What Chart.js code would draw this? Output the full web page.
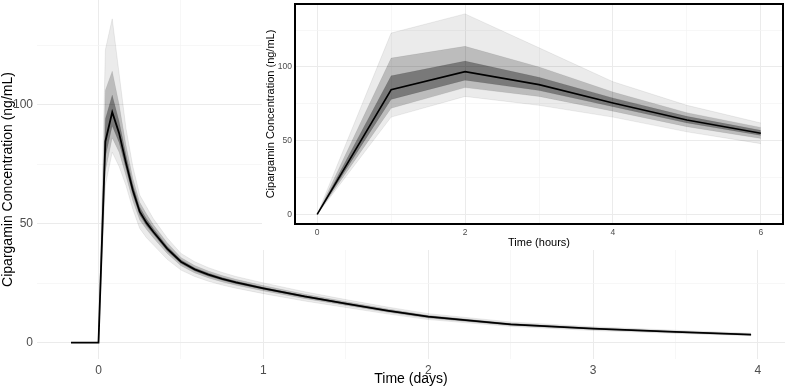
<!DOCTYPE html>
<html>
<head>
<meta charset="utf-8">
<script src="https://cdn.jsdelivr.net/npm/chart.js@4.4.1/dist/chart.umd.min.js"></script>
<style>
  body { margin: 0; background: #fff; }
  #wrap { position: relative; width: 788px; height: 388px; }
  #inset { position: absolute; left: 262px; top: 0; background: #fff; }
</style>
</head>
<body>
<div id="wrap">
  <canvas id="main" width="788" height="388"></canvas>
  <canvas id="inset" width="526" height="250"></canvas>
</div>
<script>
// time after dose, in hours
const hours  = [-4, 0, 1, 2, 3, 4, 5, 6, 7, 8, 10, 12, 14, 16, 18, 20, 24, 30, 36, 42, 48, 60, 72, 84, 95];
// median profile (black line), ng/mL
const median = [0, 0, 84.5, 96.8, 88, 75.5, 64, 55, 50.3, 46.5, 39.5, 34, 30.8, 28.6, 26.8, 25.3, 22.8, 19.4, 16.4, 13.5, 10.9, 7.7, 5.9, 4.5, 3.4];
// spread of the simulated profiles (grey lines)
const pMin = [0, 0, 66, 80, 74, 66, 56, 48, 44, 41, 35, 30.5, 27.8, 25.8, 24.2, 22.9, 20.6, 17.5, 14.8, 12.1, 9.7, 6.8, 5.1, 3.9, 2.9];
const p10  = [0, 0, 72, 86, 80, 70, 59.5, 51.5, 47.5, 44, 37.5, 32.3, 29.3, 27.2, 25.5, 24.1, 21.7, 18.5, 15.6, 12.8, 10.3, 7.2, 5.5, 4.2, 3.15];
const p25  = [0, 0, 78, 91, 84, 73, 62, 53.5, 49, 45.5, 38.5, 33.2, 30.1, 27.9, 26.2, 24.7, 22.3, 19, 16, 13.2, 10.6, 7.45, 5.7, 4.35, 3.28];
const p75  = [0, 0, 94, 104, 93, 79, 66.5, 57, 52, 48, 40.5, 34.8, 31.5, 29.3, 27.4, 25.9, 23.3, 19.8, 16.8, 13.8, 11.2, 7.95, 6.1, 4.65, 3.52];
const p90  = [0, 0, 106, 114, 100, 83, 69, 59, 54, 49.5, 42, 35.8, 32.4, 30.1, 28.2, 26.6, 24, 20.4, 17.3, 14.2, 11.5, 8.2, 6.3, 4.8, 3.65];
const pMax = [0, 0, 123, 136, 113, 90, 74, 62, 57, 52, 44, 37.5, 34, 31.5, 29.5, 27.8, 25.1, 21.4, 18.1, 15, 12.2, 8.7, 6.7, 5.2, 4];

// axis ticks
const dayGrid = [0, 0.5, 1, 1.5, 2, 2.5, 3, 3.5, 4];
const dayLabels = [0, 1, 2, 3, 4];
const hourGrid = [0, 1, 2, 3, 4, 5, 6];
const hourLabels = [0, 2, 4, 6];
const concGrid = [0, 25, 50, 75, 100, 125];
const concLabels = [0, 50, 100];

Chart.defaults.font.family = '"Liberation Sans", Arial, sans-serif';
Chart.defaults.color = '#4D4D4D';

function series(vals, per, from, to) {
  const pts = [];
  hours.forEach((h, i) => {
    if (h >= from && h <= to) pts.push({ x: h / per, y: vals[i] });
  });
  return pts;
}

function makeDatasets(per, from, to, lw) {
  const thin = 'rgba(0,0,0,0.12)';
  return [
    { data: series(pMax, per, from, to), borderColor: thin, borderWidth: 0.6, fill: { target: 1 }, backgroundColor: 'rgba(0,0,0,0.08)' },
    { data: series(pMin, per, from, to), borderColor: thin, borderWidth: 0.6, fill: false },
    { data: series(p90, per, from, to), borderColor: thin, borderWidth: 0.6, fill: { target: 3 }, backgroundColor: 'rgba(0,0,0,0.20)' },
    { data: series(p10, per, from, to), borderColor: thin, borderWidth: 0.6, fill: false },
    { data: series(p75, per, from, to), borderColor: thin, borderWidth: 0.6, fill: { target: 5 }, backgroundColor: 'rgba(0,0,0,0.36)' },
    { data: series(p25, per, from, to), borderColor: thin, borderWidth: 0.6, fill: false },
    { data: series(median, per, from, to), borderColor: '#000', borderWidth: lw, fill: false }
  ];
}

function gridAxis(grid, labels, min, max, size, fit, pad, title, titleSize, titlePad) {
  return {
    type: 'linear', min: min, max: max,
    afterBuildTicks: s => { s.ticks = grid.map(v => ({ value: v })); },
    afterFit: s => {
      if (s.isHorizontal()) s.height = fit; else s.width = fit;
      s.paddingTop = 0; s.paddingBottom = 0; s.paddingLeft = 0; s.paddingRight = 0;
    },
    ticks: {
      autoSkip: false, maxRotation: 0, padding: pad,
      font: { size: size }, color: '#4D4D4D',
      callback: v => labels.includes(v) ? String(v) : ''
    },
    grid: {
      drawTicks: false,
      color: c => labels.includes(c.tick.value) ? '#EBEBEB' : '#F3F3F3',
      lineWidth: c => labels.includes(c.tick.value) ? 1 : 0.7
    },
    border: { display: false },
    title: { display: true, text: title, color: '#000', font: { size: titleSize }, padding: titlePad }
  };
}

new Chart(document.getElementById('main'), {
  type: 'line',
  data: { datasets: makeDatasets(24, -4, 95, 1.8) },
  options: {
    responsive: false, animation: false,
    layout: { padding: { top: 0, right: 3, left: 0, bottom: 0 } },
    elements: { point: { radius: 0 }, line: { tension: 0 } },
    plugins: { legend: { display: false }, tooltip: { enabled: false } },
    scales: {
      x: gridAxis(dayGrid, dayLabels, -0.373, 4.164, 12, 29, 4, 'Time (days)', 14, { top: 0, bottom: 0 }),
      y: gridAxis(concGrid, concLabels, -6.85, 143.9, 12, 37, 4, 'Cipargamin Concentration (ng/mL)', 14, { top: 0, bottom: 0 })
    }
  }
});

const panelBorder = {
  id: 'panelBorder',
  afterDraw(chart) {
    const a = chart.chartArea, c = chart.ctx;
    c.save();
    c.strokeStyle = '#000';
    c.lineWidth = 2;
    c.strokeRect(a.left, a.top, a.right - a.left, a.bottom - a.top);
    c.restore();
  }
};

new Chart(document.getElementById('inset'), {
  type: 'line',
  data: { datasets: makeDatasets(1, 0, 6, 1.6) },
  options: {
    responsive: false, animation: false,
    layout: { padding: { top: 4, right: 5, left: 0, bottom: 0 } },
    elements: { point: { radius: 0 }, line: { tension: 0 } },
    plugins: { legend: { display: false }, tooltip: { enabled: false } },
    scales: {
      x: gridAxis(hourGrid, hourLabels, -0.3, 6.3, 8.5, 26, 4, 'Time (hours)', 11, { top: 0, bottom: 0 }),
      y: gridAxis(concGrid, concLabels, -6.5, 142.7, 8.5, 33, 3, 'Cipargamin Concentration (ng/mL)', 11, { top: 2, bottom: 0 })
    }
  },
  plugins: [panelBorder]
});
</script>
</body>
</html>
